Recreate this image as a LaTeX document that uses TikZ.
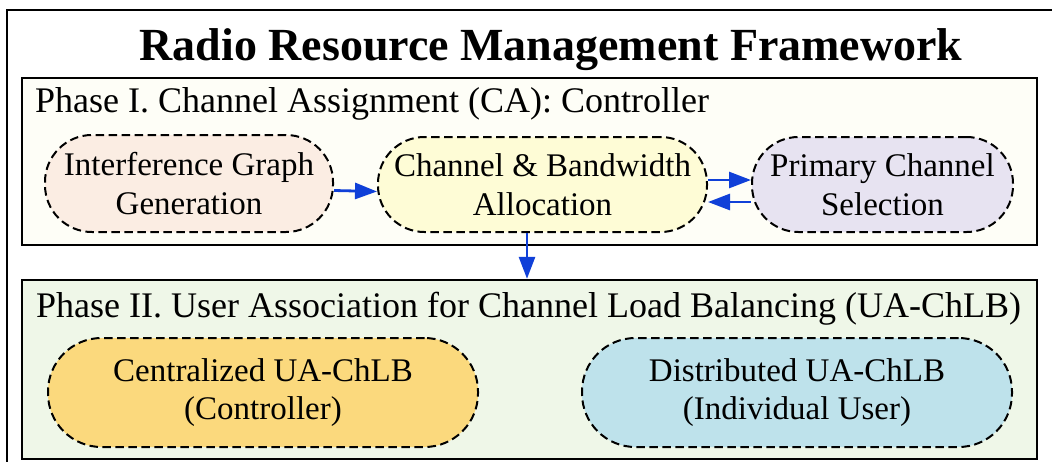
\documentclass[tikz,border=0pt]{standalone}
\usepackage{fontspec}
\setmainfont{Liberation Serif}
\usetikzlibrary{arrows.meta}
\definecolor{pIbg}{HTML}{FEFEF7}
\definecolor{pIIbg}{HTML}{EFF7E8}
\definecolor{igfill}{HTML}{FBEDE3}
\definecolor{cbfill}{HTML}{FEFCD6}
\definecolor{pcfill}{HTML}{E7E3F1}
\definecolor{cefill}{HTML}{FBD97D}
\definecolor{difill}{HTML}{BEE2EB}
\definecolor{arrblue}{HTML}{1040D8}
\tikzset{
  phasebox/.style={draw=black, line width=2.4pt, inner sep=0pt},
  procnode/.style={draw=black, dashed, dash pattern=on 8.5pt off 4.5pt, line width=2pt,
    align=center, inner sep=0pt,
    font=\fontsize{33}{38.5}\selectfont},
  flow/.style={draw=arrblue, line width=2.8pt, -{Triangle[length=22pt,width=16pt]}},
  phaselabel/.style={anchor=base west, inner sep=0pt, font=\fontsize{36}{40}\selectfont}
}
\begin{document}
\begin{tikzpicture}[x=1pt,y=-1pt]
\useasboundingbox (0,0) rectangle (1052,461);
\clip (0,0) rectangle (1052,461);
\fill[white] (0,0) rectangle (1052,461);
\draw[line width=2pt] (7,10) rectangle (1075,490);
\node[anchor=base, inner sep=0pt, font=\fontsize{46}{50}\selectfont\bfseries] (title) at (551,60) {Radio Resource Management Framework};
% phase boxes
\node[phasebox, fill=pIbg, minimum width=1015pt, minimum height=167pt] (p1) at (529.5,161.5) {};
\node[phasebox, fill=pIIbg, minimum width=1015pt, minimum height=179pt] (p2) at (529.5,369.5) {};
\node[phaselabel] (l1) at (35,112) {Phase I. Channel Assignment (CA): Controller};
\node[phaselabel] (l2) at (36,317) {Phase II. User Association for Channel Load Balancing (UA-ChLB)};
% phase I nodes
\node[procnode, rounded corners=47pt, fill=igfill, minimum width=288pt, minimum height=97pt] (ig) at (189,183.5) {Interference Graph\\Generation};
\node[procnode, rounded corners=46.5pt, fill=cbfill, minimum width=329pt, minimum height=95pt] (cb) at (542.5,184.5) {Channel \& Bandwidth\\Allocation};
\node[procnode, rounded corners=46.5pt, fill=pcfill, minimum width=261pt, minimum height=95pt] (pc) at (882.5,184.5) {Primary Channel\\Selection};
% phase II nodes
\node[procnode, rounded corners=53.5pt, fill=cefill, minimum width=430pt, minimum height=109pt] (ce) at (263,392.5) {Centralized UA-ChLB\\(Controller)};
\node[procnode, rounded corners=53.5pt, fill=difill, minimum width=430pt, minimum height=109pt] (di) at (797,392.5) {Distributed UA-ChLB\\(Individual User)};
% connectors
\draw[flow] ([yshift=-7pt]ig.east) -- ([yshift=-7pt]cb.west);
\draw[flow] ([yshift=4.5pt]cb.east) -- ([yshift=4.5pt]pc.west);
\draw[flow] ([yshift=-17.5pt]pc.west) -- ([yshift=-17.5pt]cb.east);
\draw[flow] ([xshift=-15.5pt]cb.south) -- ([xshift=-15.5pt]cb.south |- p2.north);
\end{tikzpicture}
\end{document}
